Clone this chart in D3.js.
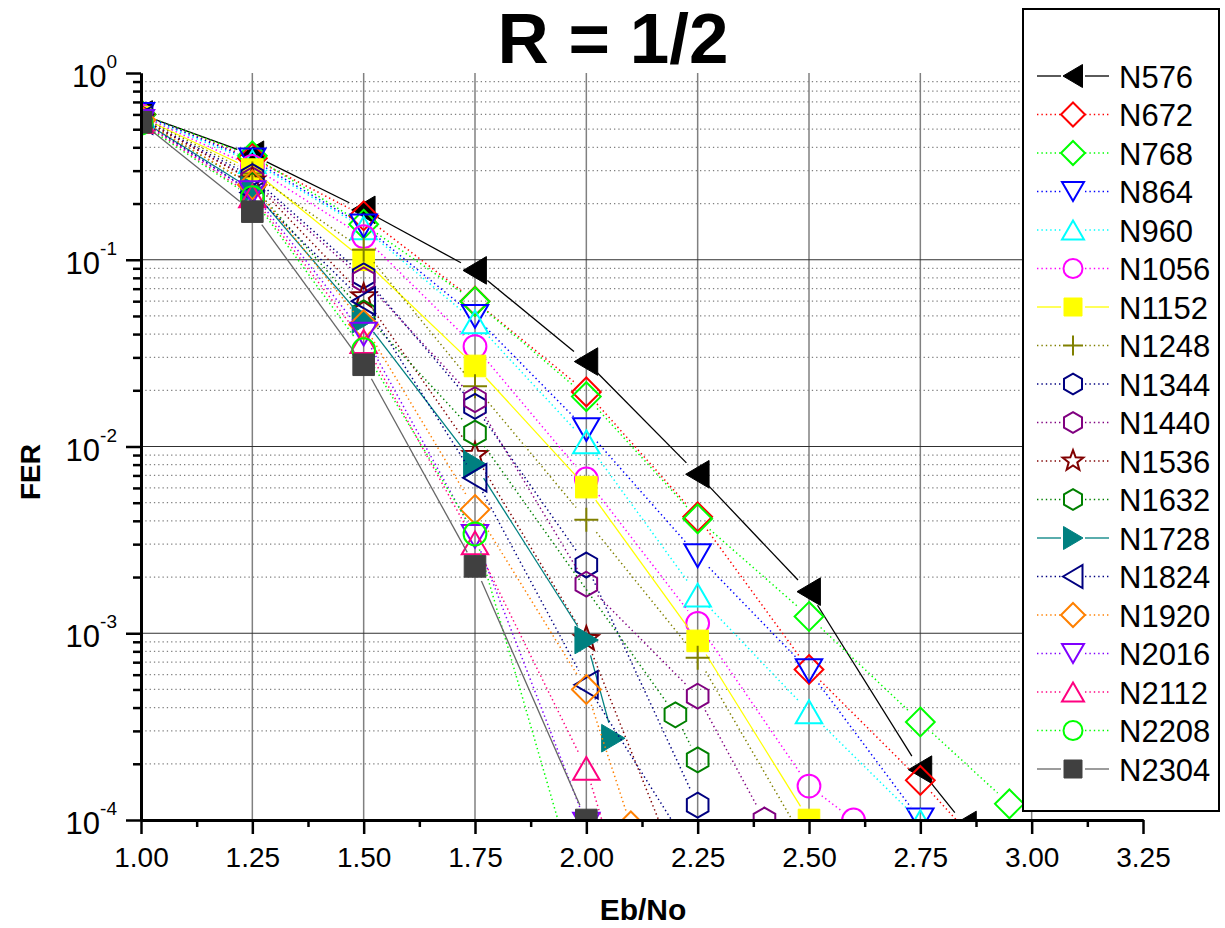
<!DOCTYPE html>
<html>
<head>
<meta charset="utf-8">
<script src="https://cdn.jsdelivr.net/npm/d3@7"></script>
<style>
body { margin: 0; background: #fff; }
svg { font-family: "Liberation Sans", Arial, sans-serif; display: block; }
</style>
</head>
<body>
<div id="chart"></div>
<script>
// axis ticks
var xTicks = [1.00, 1.25, 1.50, 1.75, 2.00, 2.25, 2.50, 2.75, 3.00, 3.25]
var xMinor = [1.125, 1.375, 1.625, 1.875, 2.125, 2.375, 2.625, 2.875, 3.125]
var yDecades = [1e-4, 1e-3, 1e-2, 1e-1, 1e0]

var names = ["N576", "N672", "N768", "N864", "N960", "N1056", "N1152", "N1248", "N1344", "N1440",
             "N1536", "N1632", "N1728", "N1824", "N1920", "N2016", "N2112", "N2208", "N2304"]

// FER values
var n576_x = [1.00, 1.25, 1.50, 1.75, 2.00, 2.25, 2.50, 2.75, 2.85]
var n576_fer = [0.60, 0.365, 0.185, 0.0877, 0.0285, 0.0071, 0.00167, 0.000186, 0.000094]
var n672_x = [1.00, 1.25, 1.50, 1.75, 2.00, 2.25, 2.50, 2.75, 3.00]
var n672_fer = [0.60, 0.35, 0.172, 0.060, 0.0196, 0.0042, 0.00064, 0.000163, 0.000036]
var n768_x = [1.00, 1.25, 1.50, 1.75, 2.00, 2.25, 2.50, 2.75, 2.95]
var n768_fer = [0.60, 0.36, 0.155, 0.0598, 0.0185, 0.0041, 0.00123, 0.000335, 0.000122]
var n864_x = [1.00, 1.25, 1.50, 1.75, 2.00, 2.25, 2.50, 2.75]
var n864_fer = [0.60, 0.343, 0.152, 0.0497, 0.0123, 0.0026, 0.00063, 0.0001]
var n960_x = [1.00, 1.25, 1.50, 1.75, 2.00, 2.25, 2.50, 2.75]
var n960_fer = [0.59, 0.335, 0.148, 0.0465, 0.0106, 0.0016, 0.00038, 0.000098]
var n1056_x = [1.00, 1.25, 1.50, 1.75, 2.00, 2.25, 2.50, 2.60]
var n1056_fer = [0.59, 0.316, 0.133, 0.0343, 0.0067, 0.00113, 0.000152, 0.0001]
var n1152_x = [1.00, 1.25, 1.50, 1.75, 2.00, 2.25, 2.50]
var n1152_fer = [0.58, 0.304, 0.100, 0.027, 0.00606, 0.00091, 0.0001]
var n1248_x = [1.00, 1.25, 1.50, 1.75, 2.00, 2.25, 2.50]
var n1248_fer = [0.58, 0.29, 0.113, 0.021, 0.00405, 0.00074, 0.00007]
var n1344_x = [1.00, 1.25, 1.50, 1.75, 2.00, 2.25, 2.50]
var n1344_fer = [0.57, 0.279, 0.082, 0.0164, 0.00232, 0.00012, 0.000005]
var n1440_x = [1.00, 1.25, 1.50, 1.75, 2.00, 2.25, 2.40]
var n1440_fer = [0.57, 0.268, 0.078, 0.0178, 0.00183, 0.00046, 0.0001]
var n1536_x = [1.00, 1.25, 1.50, 1.75, 2.00, 2.25]
var n1536_fer = [0.57, 0.265, 0.0637, 0.009, 0.00093, 0.00003]
var n1632_x = [1.00, 1.25, 1.50, 1.75, 2.20, 2.25]
var n1632_fer = [0.56, 0.25, 0.052, 0.0118, 0.000366, 0.00021]
var n1728_x = [1.00, 1.25, 1.50, 1.75, 2.00, 2.06]
var n1728_fer = [0.56, 0.237, 0.048, 0.008, 0.00092, 0.000274]
var n1824_x = [1.00, 1.25, 1.50, 1.75, 2.00, 2.25]
var n1824_fer = [0.56, 0.229, 0.060, 0.0068, 0.00053, 0.00006]
var n1920_x = [1.00, 1.25, 1.50, 1.75, 2.00, 2.10]
var n1920_fer = [0.56, 0.252, 0.045, 0.0046, 0.0005, 0.000093]
var n2016_x = [1.00, 1.25, 1.50, 1.75, 2.00]
var n2016_fer = [0.55, 0.229, 0.040, 0.0033, 0.000095]
var n2112_x = [1.00, 1.25, 1.50, 1.75, 2.00, 2.25]
var n2112_fer = [0.55, 0.22, 0.0365, 0.00305, 0.000189, 0.000002]
var n2208_x = [1.00, 1.25, 1.50, 1.75, 2.00]
var n2208_fer = [0.54, 0.215, 0.033, 0.0034, 0.00003]
var n2304_x = [1.00, 1.25, 1.50, 1.75, 2.00]
var n2304_fer = [0.545, 0.181, 0.0274, 0.00228, 0.0001]

var allX = [n576_x, n672_x, n768_x, n864_x, n960_x, n1056_x, n1152_x, n1248_x, n1344_x, n1440_x,
            n1536_x, n1632_x, n1728_x, n1824_x, n1920_x, n2016_x, n2112_x, n2208_x, n2304_x]
var allFer = [n576_fer, n672_fer, n768_fer, n864_fer, n960_fer, n1056_fer, n1152_fer, n1248_fer, n1344_fer, n1440_fer,
              n1536_fer, n1632_fer, n1728_fer, n1824_fer, n1920_fer, n2016_fer, n2112_fer, n2208_fer, n2304_fer]

// look of each series: colour, line colour, dotted or not, marker, filled
var looks = [
    ["#000000", "#000000", false, "left", true],
    ["#ff0000", "#ff0000", true, "diamond", false],
    ["#00ff00", "#00ff00", true, "diamond", false],
    ["#0000ff", "#0000ff", true, "down", false],
    ["#00ffff", "#00ffff", true, "up", false],
    ["#ff00ff", "#ff00ff", true, "circle", false],
    ["#ffff00", "#ffff00", false, "square", true],
    ["#808000", "#808000", true, "plus", false],
    ["#000080", "#000080", true, "hexagon", false],
    ["#800080", "#800080", true, "hexagon", false],
    ["#800000", "#800000", true, "star", false],
    ["#008000", "#008000", true, "hexagon", false],
    ["#008080", "#008080", false, "right", true],
    ["#000080", "#000080", true, "left", false],
    ["#ff8000", "#ff8000", true, "diamond", false],
    ["#8000ff", "#8000ff", true, "down", false],
    ["#ff0080", "#ff0080", true, "up", false],
    ["#00ff00", "#00ff00", true, "circle", false],
    ["#404040", "#666666", false, "square", true]
]

var series = names.map(function (n, i) {
    return {
        name: n, xs: allX[i], ys: allFer[i],
        color: looks[i][0], lineColor: looks[i][1], dotted: looks[i][2],
        marker: looks[i][3], filled: looks[i][4]
    }
})

var W = 1225, H = 928
var pLeft = 141, pRight = 1143, pTop = 73, pBottom = 820

var svg = d3.select("#chart").append("svg").attr("width", W).attr("height", H)

var x = d3.scaleLinear().domain([1, 3.25]).range([pLeft, pRight])
var y = d3.scaleLog().domain([1e-4, 1]).range([pBottom, pTop])

var yMinor = []
yDecades.slice(0, 4).forEach(function (d) {
    for (var k = 2; k <= 9; k++) yMinor.push(d * k)
})

// marker shapes, centred at 0,0, h = half size
function markerPath(type, h) {
    var pts
    if (type == "circle") {
        var r = 0.95 * h
        return "M" + r + ",0A" + r + "," + r + " 0 1,1 " + (-r) + ",0A" + r + "," + r + " 0 1,1 " + r + ",0Z"
    }
    if (type == "square") { var s = 0.9 * h; pts = [[-s, -s], [s, -s], [s, s], [-s, s]] }
    if (type == "diamond") { var s = 1.2 * h; pts = [[0, -s], [s, 0], [0, s], [-s, 0]] }
    if (type == "up") pts = [[0, -0.95 * h], [1.1 * h, 0.95 * h], [-1.1 * h, 0.95 * h]]
    if (type == "down") pts = [[0, 0.95 * h], [1.1 * h, -0.95 * h], [-1.1 * h, -0.95 * h]]
    if (type == "left") pts = [[-1.0 * h, 0], [0.95 * h, -1.15 * h], [0.95 * h, 1.15 * h]]
    if (type == "right") pts = [[1.0 * h, 0], [-0.95 * h, -1.15 * h], [-0.95 * h, 1.15 * h]]
    if (type == "hexagon") {
        pts = d3.range(6).map(function (k) {
            var a = (-90 + 60 * k) * Math.PI / 180
            return [1.04 * h * Math.cos(a), 1.04 * h * Math.sin(a)]
        })
    }
    if (type == "star") {
        pts = d3.range(10).map(function (k) {
            var a = (-90 + 36 * k) * Math.PI / 180
            var r = k % 2 == 0 ? 1.08 * h : 0.45 * h
            return [r * Math.cos(a), r * Math.sin(a)]
        })
    }
    if (type == "plus") return "M" + (-h) + ",0H" + h + "M0," + (-h) + "V" + h
    return "M" + pts.map(function (p) { return p[0].toFixed(2) + "," + p[1].toFixed(2) }).join("L") + "Z"
}

function drawMarker(g, s, cx, cy, h) {
    g.append("path")
        .attr("d", markerPath(s.marker, h))
        .attr("transform", "translate(" + cx + "," + cy + ")")
        .attr("fill", s.filled ? s.color : "none")
        .attr("stroke", s.color)
        .attr("stroke-width", s.filled ? 1 : 2)
}

// line piece between two points, leaving a gap round each marker
function drawGapLine(g, s, p0, p1, gap0, gap1) {
    var dx = p1[0] - p0[0], dy = p1[1] - p0[1]
    var L = Math.sqrt(dx * dx + dy * dy)
    if (L <= gap0 + gap1) return
    var ux = dx / L, uy = dy / L
    var ln = g.append("line")
        .attr("x1", p0[0] + ux * gap0).attr("y1", p0[1] + uy * gap0)
        .attr("x2", p1[0] - ux * gap1).attr("y2", p1[1] - uy * gap1)
        .attr("stroke", s.lineColor)
    if (s.dotted) ln.attr("stroke-width", 1.5).attr("stroke-dasharray", "1.4,3")
    else ln.attr("stroke-width", 1.3)
}

// grid
var grid = svg.append("g")
grid.selectAll(".vg").data(xTicks.slice(1, -1)).enter().append("line")
    .attr("x1", d => x(d)).attr("x2", d => x(d)).attr("y1", pTop).attr("y2", pBottom)
    .attr("stroke", "#808080").attr("stroke-width", 1.5)
grid.selectAll(".hm").data(yMinor).enter().append("line")
    .attr("x1", pLeft).attr("x2", pRight).attr("y1", d => y(d)).attr("y2", d => y(d))
    .attr("stroke", "#808080").attr("stroke-width", 1.2).attr("stroke-dasharray", "1.3,3")
grid.selectAll(".hM").data(yDecades.slice(1, 4)).enter().append("line")
    .attr("x1", pLeft).attr("x2", pRight).attr("y1", d => y(d)).attr("y2", d => y(d))
    .attr("stroke", "#303030").attr("stroke-width", 1.2)

// data
svg.append("clipPath").attr("id", "plotclip").append("rect")
    .attr("x", pLeft).attr("y", pTop).attr("width", pRight - pLeft).attr("height", pBottom - pTop)
var plot = svg.append("g").attr("clip-path", "url(#plotclip)")

series.forEach(function (s) {
    var g = plot.append("g")
    var pts = s.xs.map(function (v, i) { return [x(v), y(s.ys[i])] })
    for (var i = 0; i < pts.length - 1; i++) drawGapLine(g, s, pts[i], pts[i + 1], 16, 16)
    pts.forEach(function (p) { drawMarker(g, s, p[0], p[1], 12) })
})

// axes
var xAxis = svg.append("g").attr("transform", "translate(0," + pBottom + ")")
    .call(d3.axisBottom(x).tickValues(xTicks).tickFormat(d3.format(".2f")).tickSize(14).tickSizeOuter(0))
var xAxisMinor = svg.append("g").attr("transform", "translate(0," + pBottom + ")")
    .call(d3.axisBottom(x).tickValues(xMinor).tickFormat("").tickSize(7).tickSizeOuter(0))
var yAxis = svg.append("g").attr("transform", "translate(" + pLeft + ",0)")
    .call(d3.axisLeft(y).tickValues(yDecades).tickSize(15).tickSizeOuter(0))
var yAxisMinor = svg.append("g").attr("transform", "translate(" + pLeft + ",0)")
    .call(d3.axisLeft(y).tickValues(yMinor).tickFormat("").tickSize(8).tickSizeOuter(0))

;[xAxis, xAxisMinor, yAxis, yAxisMinor].forEach(function (a) {
    a.attr("font-family", null).attr("font-size", null)
    a.select(".domain").attr("stroke", "#000").attr("stroke-width", 3)
    a.selectAll(".tick line").attr("stroke", "#000").attr("stroke-width", 2.5)
})
xAxis.selectAll(".tick text")
    .attr("font-size", 28).attr("fill", "#000").attr("y", 47.4).attr("dy", null)

yAxis.selectAll(".tick text").each(function (d) {
    var t = d3.select(this)
    var e = Math.round(Math.log10(d))
    t.text(null).attr("x", -24).attr("y", 13.5).attr("dy", null)
        .attr("font-size", 31).attr("fill", "#000")
    t.append("tspan").text("10")
    t.append("tspan").attr("dy", -19).attr("font-size", 19).text(e == 0 ? "0" : "-" + Math.abs(e))
})

// titles
svg.append("text").attr("x", 613).attr("y", 63).attr("text-anchor", "middle")
    .attr("font-size", 71).attr("font-weight", "bold").text("R = 1/2")
svg.append("text").attr("x", 643).attr("y", 920).attr("text-anchor", "middle")
    .attr("font-size", 30).attr("font-weight", "bold").text("Eb/No")
svg.append("text").attr("transform", "translate(40,472) rotate(-90)").attr("text-anchor", "middle")
    .attr("font-size", 28).attr("font-weight", "bold").text("FER")

// legend
var leg = svg.append("g")
leg.append("rect").attr("x", 1023).attr("y", 9).attr("width", 196).attr("height", 802)
    .attr("fill", "#fff").attr("stroke", "#000").attr("stroke-width", 2)
series.forEach(function (s, i) {
    var ly = 76 + i * 38.5
    drawGapLine(leg, s, [1037, ly], [1073, ly], 0, 12)
    drawGapLine(leg, s, [1073, ly], [1109, ly], 12, 0)
    drawMarker(leg, s, 1073, ly, 10)
    leg.append("text").attr("x", 1119).attr("y", ly + 11.5)
        .attr("font-size", 31).attr("fill", "#000").text(s.name)
})
</script>
</body>
</html>
